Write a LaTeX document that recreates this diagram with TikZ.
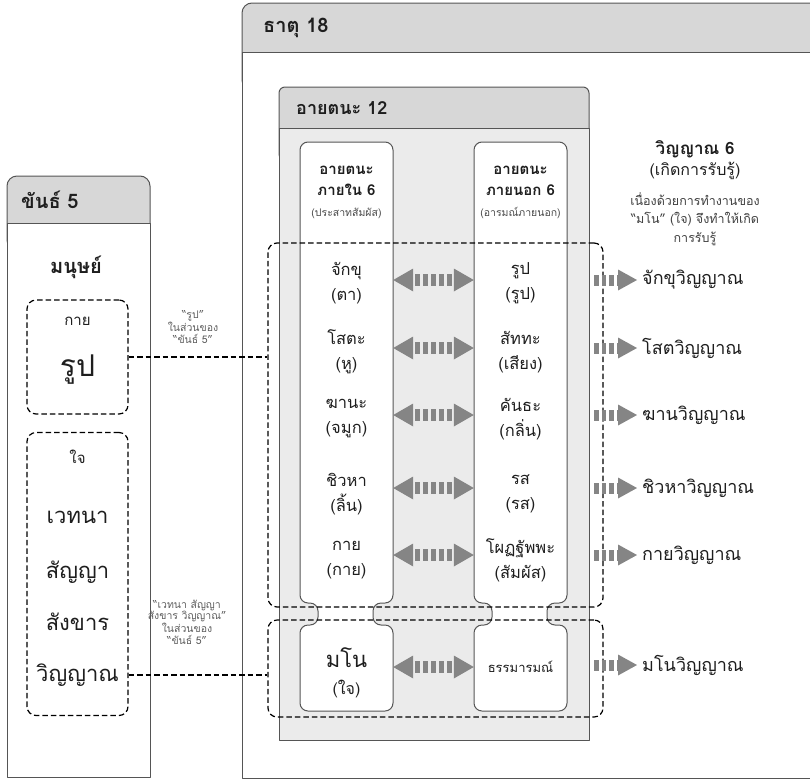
\documentclass[tikz,border=0pt]{standalone}
\usepackage{fontspec}
\setmainfont[Script=Thai]{Loma}
\usetikzlibrary{arrows.meta}

\definecolor{headgray}{HTML}{D7D7D7}
\definecolor{panelgray}{HTML}{EBEBEB}
\definecolor{edgegray}{HTML}{555555}
\definecolor{arrowgray}{HTML}{858585}
\definecolor{notegray}{HTML}{5E5E5E}
\definecolor{inkblack}{HTML}{1E1E1E}

\begin{document}
\begin{tikzpicture}[x=1pt, y=-1pt, line join=round, text=inkblack,
	frame/.style={draw=edgegray, line width=1pt},
	dashframe/.style={draw=black, line width=1.2pt, dash pattern=on 5.5pt off 3pt, rounded corners=9pt, inner sep=0pt},
	dashline/.style={draw=black, line width=1.2pt, dash pattern=on 5.5pt off 3pt},
	boxhead/.style={anchor=west, inner sep=0pt, font=\bfseries\fontsize{20}{22}\selectfont},
	rowtxt/.style={align=center, inner sep=0pt, minimum width=93pt, font=\fontsize{16.5}{25}\selectfont},
	sensetxt/.style={anchor=west, inner sep=0pt, font=\fontsize{18}{20}\selectfont},
	note/.style={align=center, inner sep=0pt, text=notegray, font=\fontsize{10.5}{11.7}\selectfont},
	pairarrow/.style={draw=arrowgray, line width=12pt, dash pattern=on 4.5pt off 3.5pt, dash phase=6pt,
		{Triangle[length=20pt, width=23pt, line width=0pt]}-{Triangle[length=20pt, width=23pt, line width=0pt]}},
	knowarrow/.style={draw=arrowgray, line width=11pt, dash pattern=on 4.5pt off 3.2pt, shorten >=5pt,
		-{Triangle[length=19pt, width=21pt, line width=0pt]}}]
	\useasboundingbox (0,0) rectangle (810,779);

	% กรอบขันธ์ 5
	\draw[frame, fill=headgray, rounded corners=10pt] (7,176) rectangle (150,250);
	\draw[frame, fill=white] (7,223) rectangle (150,777);
	\node[boxhead] (khanhead) at (21,200) {ขันธ์ 5};

	% กรอบธาตุ 18
	\draw[frame, fill=headgray, rounded corners=10pt] (242,3) rectangle (840,90);
	\draw[frame, fill=white] (242,52) rectangle (840,778);
	\node[boxhead] (dhatuhead) at (263,28) {ธาตุ 18};

	% กรอบอายตนะ 12
	\draw[frame, fill=headgray, rounded corners=6pt] (279,87) rectangle (589,160);
	\draw[frame, fill=panelgray] (279,128) rectangle (589,740);
	\node[boxhead, font=\bfseries\fontsize{18}{20}\selectfont] (ayatanahead) at (296,108) {อายตนะ 12};

	% เสาภายใน / ภายนอก
	\foreach \cx in {300, 474} {
		\draw[frame, fill=white, rounded corners=8pt] (\cx,142) -- ++(93,0) -- ++(0,461) -- ++(-20,0) -- ++(0,22)
			-- ++(20,0) -- ++(0,86) -- ++(-93,0) -- ++(0,-86) -- ++(18,0) -- ++(0,-22) -- ++(-18,0) -- cycle;
	}
	\node[align=center, font=\bfseries\fontsize{15}{21}\selectfont] (innerhead) at (346.5,181) {อายตนะ\\ภายใน 6};
	\node[note, text=inkblack!80, font=\fontsize{10.5}{12}\selectfont] (innernote) at (346.5,213) {(ประสาทสัมผัส)};
	\node[align=center, font=\bfseries\fontsize{15}{21}\selectfont] (outerhead) at (520.5,181) {อายตนะ\\ภายนอก 6};
	\node[note, text=inkblack!80, font=\fontsize{10.5}{12}\selectfont] (outernote) at (520.5,213) {(อารมณ์ภายนอก)};

	% กลุ่มเส้นประ
	\node[dashframe, minimum width=335pt, minimum height=364pt] (uppergroup) at (435.5,425) {};
	\node[dashframe, minimum width=335pt, minimum height=97pt] (lowergroup) at (435.5,668.5) {};

	% อายตนะคู่ และวิญญาณ
	\foreach \i/\ty/\ay/\senseL/\senseR/\know in {
		1/283/280/{จักขุ\\(ตา)}/{รูป\\(รูป)}/จักขุวิญญาณ,
		2/352/348/{โสตะ\\(หู)}/{สัททะ\\(เสียง)}/โสตวิญญาณ,
		3/419/415/{ฆานะ\\(จมูก)}/{คันธะ\\(กลิ่น)}/ฆานวิญญาณ,
		4/494/488/{ชิวหา\\(ลิ้น)}/{รส\\(รส)}/ชิวหาวิญญาณ,
		5/560/555/{กาย\\(กาย)}/{โผฏฐัพพะ\\(สัมผัส)}/กายวิญญาณ} {
		\node[rowtxt] (L\i) at (346.5,\ty) {\senseL};
		\node[rowtxt] (R\i) at (520.5,\ty) {\senseR};
		\node[sensetxt] (V\i) at (642,\ay) {\know};
		\draw[pairarrow] (L\i.east |- V\i) -- (R\i.west |- V\i);
		\draw[knowarrow] ([xshift=-48pt]V\i.west) -- (V\i.west);
	}
	\node[rowtxt, font=\fontsize{16}{27}\selectfont] (L6) at (346.5,673) {{\fontsize{22}{27}\selectfont มโน}\\(ใจ)};
	\node[rowtxt, font=\fontsize{13}{18}\selectfont] (R6) at (520.5,667) {ธรรมารมณ์};
	\node[sensetxt] (V6) at (642,665) {มโนวิญญาณ};
	\draw[pairarrow] (L6.east |- R6) -- (R6.west);
	\draw[knowarrow] ([xshift=-48pt]V6.west) -- (V6.west);

	% วิญญาณ 6
	\node[font=\bfseries\fontsize{17}{20}\selectfont] (vinhead) at (695,149) {วิญญาณ 6};
	\node[font=\fontsize{16}{18}\selectfont] (vinsub) at (695,171) {(เกิดการรับรู้)};
	\node[align=center, font=\fontsize{12.5}{18.5}\selectfont, text=inkblack!85] (vinnote) at (695,219) {เนื่องด้วยการทำงานของ\\“มโน” (ใจ) จึงทำให้เกิด\\การรับรู้};

	% ขันธ์ 5 ในมนุษย์
	\node[font=\bfseries\fontsize{20}{22}\selectfont] (human) at (76,267) {มนุษย์};
	\node[dashframe, minimum width=101pt, minimum height=114pt] (rupbox) at (77.5,357) {};
	\node[font=\fontsize{15}{18}\selectfont] (kaya) at (77.5,321) {กาย};
	\node[font=\fontsize{30}{32}\selectfont] (rupa) at (77.5,370) {รูป};
	\node[dashframe, minimum width=101pt, minimum height=283pt] (jaibox) at (77.5,574) {};
	\node[font=\fontsize{15}{18}\selectfont] (jai) at (77.5,457) {ใจ};
	\foreach \k/\ky/\word in {1/517/เวทนา, 2/572/สัญญา, 3/622/สังขาร, 4/675/วิญญาณ}
		\node[font=\fontsize{22}{24}\selectfont] (khandha\k) at (77.5,\ky) {\word};

	% เส้นโยง
	\draw[dashline] (rupbox.east) -- (rupbox.east -| uppergroup.west);
	\draw[dashline] (khandha4 -| jaibox.east) -- (khandha4 -| lowergroup.west);
	\node[note] (rupnote) at (193,327) {“รูป”\\ในส่วนของ\\“ขันธ์ 5”};
	\node[note] (restnote) at (187,622) {“เวทนา สัญญา\\สังขาร วิญญาณ”\\ในส่วนของ\\“ขันธ์ 5”};
\end{tikzpicture}
\end{document}
